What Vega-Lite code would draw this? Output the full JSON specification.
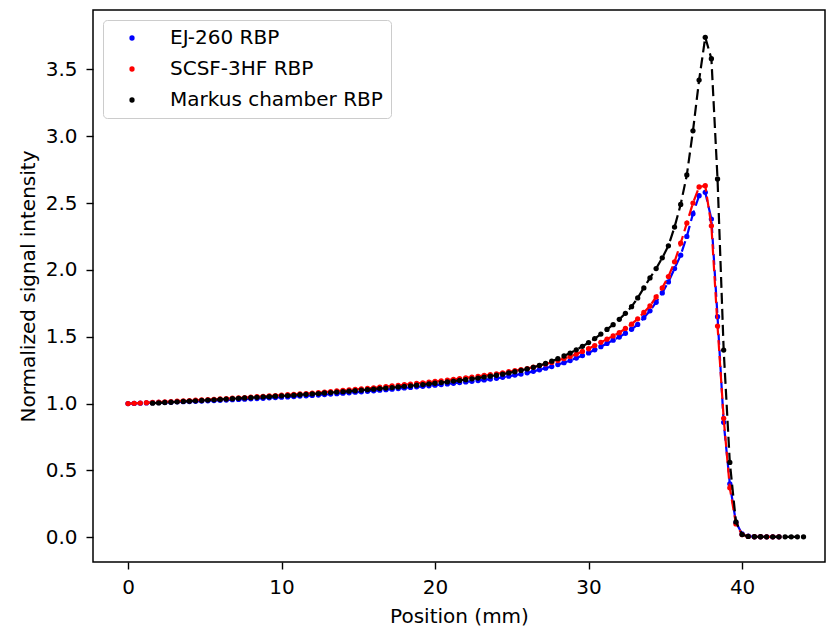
{
  "$schema": "https://vega.github.io/schema/vega-lite/v6.json",
  "width": 732,
  "height": 552,
  "autosize": "none",
  "padding": {"left": 93, "top": 10, "right": 2, "bottom": 66},
  "background": "white",
  "config": {
    "font": "DejaVu Sans",
    "view": {"stroke": "black", "strokeWidth": 1.5},
    "axis": {
      "grid": false,
      "domain": false,
      "labelFont": "DejaVu Sans",
      "labelFontSize": 20,
      "labelColor": "black",
      "tickColor": "black",
      "tickSize": 7,
      "tickWidth": 1.4,
      "titleFont": "DejaVu Sans",
      "titleFontSize": 20,
      "titleFontWeight": "normal",
      "titleColor": "black"
    }
  },
  "datasets": {
    "ej": [
      {"x":0,"y":1.000},{"x":0.4,"y":1.001},{"x":0.8,"y":1.003},{"x":1.2,"y":1.005},{"x":1.6,"y":1.007},{"x":2,"y":1.008},{"x":2.4,"y":1.009},{"x":2.8,"y":1.010},{"x":3.2,"y":1.013},{"x":3.6,"y":1.014},{"x":4,"y":1.015},{"x":4.4,"y":1.017},{"x":4.8,"y":1.019},{"x":5.2,"y":1.021},{"x":5.6,"y":1.023},{"x":6,"y":1.025},{"x":6.4,"y":1.026},{"x":6.8,"y":1.029},{"x":7.2,"y":1.031},{"x":7.6,"y":1.033},{"x":8,"y":1.036},{"x":8.4,"y":1.038},{"x":8.8,"y":1.040},{"x":9.2,"y":1.043},{"x":9.6,"y":1.045},{"x":10,"y":1.048},{"x":10.4,"y":1.050},{"x":10.8,"y":1.053},{"x":11.2,"y":1.056},{"x":11.6,"y":1.058},{"x":12,"y":1.061},{"x":12.4,"y":1.064},{"x":12.8,"y":1.068},{"x":13.2,"y":1.071},{"x":13.6,"y":1.074},{"x":14,"y":1.078},{"x":14.4,"y":1.081},{"x":14.8,"y":1.085},{"x":15.2,"y":1.088},{"x":15.6,"y":1.092},{"x":16,"y":1.096},{"x":16.4,"y":1.100},{"x":16.8,"y":1.104},{"x":17.2,"y":1.108},{"x":17.6,"y":1.112},{"x":18,"y":1.117},{"x":18.4,"y":1.121},{"x":18.8,"y":1.125},{"x":19.2,"y":1.129},{"x":19.6,"y":1.133},{"x":20,"y":1.138},{"x":20.4,"y":1.142},{"x":20.8,"y":1.147},{"x":21.2,"y":1.152},{"x":21.6,"y":1.157},{"x":22,"y":1.162},{"x":22.4,"y":1.167},{"x":22.8,"y":1.172},{"x":23.2,"y":1.177},{"x":23.6,"y":1.183},{"x":24,"y":1.189},{"x":24.4,"y":1.197},{"x":24.8,"y":1.205},{"x":25.2,"y":1.213},{"x":25.6,"y":1.221},{"x":26,"y":1.230},{"x":26.4,"y":1.241},{"x":26.8,"y":1.253},{"x":27.2,"y":1.265},{"x":27.6,"y":1.277},{"x":28,"y":1.292},{"x":28.4,"y":1.306},{"x":28.8,"y":1.322},{"x":29.2,"y":1.340},{"x":29.6,"y":1.359},{"x":30,"y":1.379},{"x":30.4,"y":1.402},{"x":30.8,"y":1.426},{"x":31.2,"y":1.450},{"x":31.6,"y":1.474},{"x":32,"y":1.498},{"x":32.4,"y":1.526},{"x":32.8,"y":1.556},{"x":33.2,"y":1.592},{"x":33.6,"y":1.642},{"x":34,"y":1.694},{"x":34.4,"y":1.758},{"x":34.8,"y":1.828},{"x":35.2,"y":1.910},{"x":35.6,"y":2.010},{"x":36,"y":2.110},{"x":36.4,"y":2.250},{"x":36.8,"y":2.420},{"x":37.2,"y":2.555},{"x":37.6,"y":2.580},{"x":38,"y":2.380},{"x":38.4,"y":1.650},{"x":38.8,"y":0.860},{"x":39.2,"y":0.400},{"x":39.6,"y":0.110},{"x":40,"y":0.025},{"x":40.4,"y":0.008},{"x":40.8,"y":0.004},{"x":41.2,"y":0.004},{"x":41.6,"y":0.003},{"x":42,"y":0.003},{"x":42.4,"y":0.003}
    ],
    "sc": [
      {"x":0,"y":1.000},{"x":0.4,"y":1.002},{"x":0.8,"y":1.004},{"x":1.2,"y":1.007},{"x":1.6,"y":1.009},{"x":2,"y":1.011},{"x":2.4,"y":1.013},{"x":2.8,"y":1.015},{"x":3.2,"y":1.018},{"x":3.6,"y":1.020},{"x":4,"y":1.022},{"x":4.4,"y":1.025},{"x":4.8,"y":1.027},{"x":5.2,"y":1.030},{"x":5.6,"y":1.032},{"x":6,"y":1.035},{"x":6.4,"y":1.037},{"x":6.8,"y":1.040},{"x":7.2,"y":1.043},{"x":7.6,"y":1.045},{"x":8,"y":1.048},{"x":8.4,"y":1.051},{"x":8.8,"y":1.054},{"x":9.2,"y":1.057},{"x":9.6,"y":1.060},{"x":10,"y":1.063},{"x":10.4,"y":1.066},{"x":10.8,"y":1.069},{"x":11.2,"y":1.072},{"x":11.6,"y":1.075},{"x":12,"y":1.078},{"x":12.4,"y":1.082},{"x":12.8,"y":1.086},{"x":13.2,"y":1.090},{"x":13.6,"y":1.094},{"x":14,"y":1.098},{"x":14.4,"y":1.102},{"x":14.8,"y":1.106},{"x":15.2,"y":1.110},{"x":15.6,"y":1.114},{"x":16,"y":1.118},{"x":16.4,"y":1.123},{"x":16.8,"y":1.127},{"x":17.2,"y":1.132},{"x":17.6,"y":1.136},{"x":18,"y":1.141},{"x":18.4,"y":1.146},{"x":18.8,"y":1.151},{"x":19.2,"y":1.155},{"x":19.6,"y":1.160},{"x":20,"y":1.165},{"x":20.4,"y":1.170},{"x":20.8,"y":1.176},{"x":21.2,"y":1.181},{"x":21.6,"y":1.187},{"x":22,"y":1.192},{"x":22.4,"y":1.198},{"x":22.8,"y":1.204},{"x":23.2,"y":1.210},{"x":23.6,"y":1.216},{"x":24,"y":1.222},{"x":24.4,"y":1.230},{"x":24.8,"y":1.238},{"x":25.2,"y":1.246},{"x":25.6,"y":1.254},{"x":26,"y":1.262},{"x":26.4,"y":1.273},{"x":26.8,"y":1.284},{"x":27.2,"y":1.296},{"x":27.6,"y":1.308},{"x":28,"y":1.322},{"x":28.4,"y":1.337},{"x":28.8,"y":1.352},{"x":29.2,"y":1.370},{"x":29.6,"y":1.390},{"x":30,"y":1.410},{"x":30.4,"y":1.434},{"x":30.8,"y":1.458},{"x":31.2,"y":1.482},{"x":31.6,"y":1.506},{"x":32,"y":1.530},{"x":32.4,"y":1.562},{"x":32.8,"y":1.594},{"x":33.2,"y":1.634},{"x":33.6,"y":1.682},{"x":34,"y":1.730},{"x":34.4,"y":1.798},{"x":34.8,"y":1.866},{"x":35.2,"y":1.950},{"x":35.6,"y":2.060},{"x":36,"y":2.200},{"x":36.4,"y":2.350},{"x":36.8,"y":2.500},{"x":37.2,"y":2.620},{"x":37.6,"y":2.630},{"x":38,"y":2.330},{"x":38.4,"y":1.580},{"x":38.8,"y":0.890},{"x":39.2,"y":0.370},{"x":39.6,"y":0.100},{"x":40,"y":0.020},{"x":40.4,"y":0.006},{"x":40.8,"y":0.004},{"x":41.2,"y":0.004},{"x":41.6,"y":0.003},{"x":42,"y":0.003},{"x":42.4,"y":0.003}
    ],
    "mk": [
      {"x":1.6,"y":1.003},{"x":2,"y":1.005},{"x":2.4,"y":1.008},{"x":2.8,"y":1.010},{"x":3.2,"y":1.013},{"x":3.6,"y":1.016},{"x":4,"y":1.018},{"x":4.4,"y":1.021},{"x":4.8,"y":1.023},{"x":5.2,"y":1.026},{"x":5.6,"y":1.028},{"x":6,"y":1.031},{"x":6.4,"y":1.034},{"x":6.8,"y":1.036},{"x":7.2,"y":1.039},{"x":7.6,"y":1.042},{"x":8,"y":1.044},{"x":8.4,"y":1.047},{"x":8.8,"y":1.050},{"x":9.2,"y":1.052},{"x":9.6,"y":1.055},{"x":10,"y":1.058},{"x":10.4,"y":1.060},{"x":10.8,"y":1.063},{"x":11.2,"y":1.066},{"x":11.6,"y":1.069},{"x":12,"y":1.072},{"x":12.4,"y":1.075},{"x":12.8,"y":1.079},{"x":13.2,"y":1.082},{"x":13.6,"y":1.086},{"x":14,"y":1.089},{"x":14.4,"y":1.093},{"x":14.8,"y":1.096},{"x":15.2,"y":1.100},{"x":15.6,"y":1.104},{"x":16,"y":1.108},{"x":16.4,"y":1.112},{"x":16.8,"y":1.116},{"x":17.2,"y":1.120},{"x":17.6,"y":1.124},{"x":18,"y":1.129},{"x":18.4,"y":1.133},{"x":18.8,"y":1.138},{"x":19.2,"y":1.142},{"x":19.6,"y":1.147},{"x":20,"y":1.152},{"x":20.4,"y":1.157},{"x":20.8,"y":1.162},{"x":21.2,"y":1.168},{"x":21.6,"y":1.173},{"x":22,"y":1.179},{"x":22.4,"y":1.185},{"x":22.8,"y":1.191},{"x":23.2,"y":1.198},{"x":23.6,"y":1.205},{"x":24,"y":1.212},{"x":24.4,"y":1.220},{"x":24.8,"y":1.229},{"x":25.2,"y":1.238},{"x":25.6,"y":1.248},{"x":26,"y":1.259},{"x":26.4,"y":1.271},{"x":26.8,"y":1.285},{"x":27.2,"y":1.300},{"x":27.6,"y":1.317},{"x":28,"y":1.336},{"x":28.4,"y":1.356},{"x":28.8,"y":1.378},{"x":29.2,"y":1.402},{"x":29.6,"y":1.428},{"x":30,"y":1.456},{"x":30.4,"y":1.486},{"x":30.8,"y":1.520},{"x":31.2,"y":1.555},{"x":31.6,"y":1.590},{"x":32,"y":1.630},{"x":32.4,"y":1.675},{"x":32.8,"y":1.725},{"x":33.2,"y":1.790},{"x":33.6,"y":1.865},{"x":34,"y":1.940},{"x":34.4,"y":2.010},{"x":34.8,"y":2.090},{"x":35.2,"y":2.180},{"x":35.6,"y":2.320},{"x":36,"y":2.490},{"x":36.4,"y":2.710},{"x":36.8,"y":3.040},{"x":37.2,"y":3.420},{"x":37.6,"y":3.740},{"x":38,"y":3.580},{"x":38.4,"y":2.680},{"x":38.8,"y":1.400},{"x":39.2,"y":0.560},{"x":39.6,"y":0.115},{"x":40,"y":0.020},{"x":40.4,"y":0.006},{"x":40.8,"y":0.004},{"x":41.2,"y":0.004},{"x":41.6,"y":0.003},{"x":42,"y":0.003},{"x":42.4,"y":0.003},{"x":42.8,"y":0.003},{"x":43.2,"y":0.003},{"x":43.6,"y":0.003},{"x":44,"y":0.003}
    ]
  },
  "encoding": {
    "x": {
      "field": "x", "type": "quantitative",
      "scale": {"domain": [-2.28, 45.4], "nice": false, "zero": false},
      "axis": {"values": [0, 10, 20, 30, 40], "format": "d", "title": "Position (mm)", "labelPadding": 8, "titlePadding": 9}
    },
    "y": {
      "field": "y", "type": "quantitative",
      "scale": {"domain": [-0.185, 3.944], "nice": false, "zero": false},
      "axis": {"values": [0, 0.5, 1, 1.5, 2, 2.5, 3, 3.5], "format": ".1f", "title": "Normalized signal intensity", "labelPadding": 9, "titlePadding": 7}
    }
  },
  "layer": [
    {"data": {"name": "ej"}, "mark": {"type": "line", "color": "#0000ff", "strokeWidth": 2.2, "strokeDash": [11, 5]}},
    {"data": {"name": "ej"}, "mark": {"type": "point", "filled": true, "shape": "circle", "size": 28, "opacity": 1},
     "encoding": {"color": {"datum": "EJ-260 RBP", "type": "nominal"}}},
    {"data": {"name": "sc"}, "mark": {"type": "line", "color": "#ff0000", "strokeWidth": 2.2, "strokeDash": [11, 5]}},
    {"data": {"name": "sc"}, "mark": {"type": "point", "filled": true, "shape": "circle", "size": 28, "opacity": 1},
     "encoding": {"color": {"datum": "SCSF-3HF RBP", "type": "nominal"}}},
    {"data": {"name": "mk"}, "mark": {"type": "line", "color": "#000000", "strokeWidth": 2.2, "strokeDash": [11, 5]}},
    {"data": {"name": "mk"}, "mark": {"type": "point", "filled": true, "shape": "circle", "size": 28, "opacity": 1},
     "encoding": {"color": {
       "datum": "Markus chamber RBP", "type": "nominal",
       "scale": {"domain": ["EJ-260 RBP", "SCSF-3HF RBP", "Markus chamber RBP"], "range": ["#0000ff", "#ff0000", "#000000"]},
       "legend": {
         "title": null, "orient": "none", "legendX": 10, "legendY": 10,
         "labelFont": "DejaVu Sans", "labelFontSize": 20, "labelColor": "black", "labelLimit": 0,
         "symbolType": "circle", "symbolSize": 28,
         "fillColor": "white", "strokeColor": "#cccccc", "cornerRadius": 4,
         "padding": 8, "rowPadding": 11, "symbolOffset": 11, "labelOffset": 28
       }
     }}}
  ]
}
